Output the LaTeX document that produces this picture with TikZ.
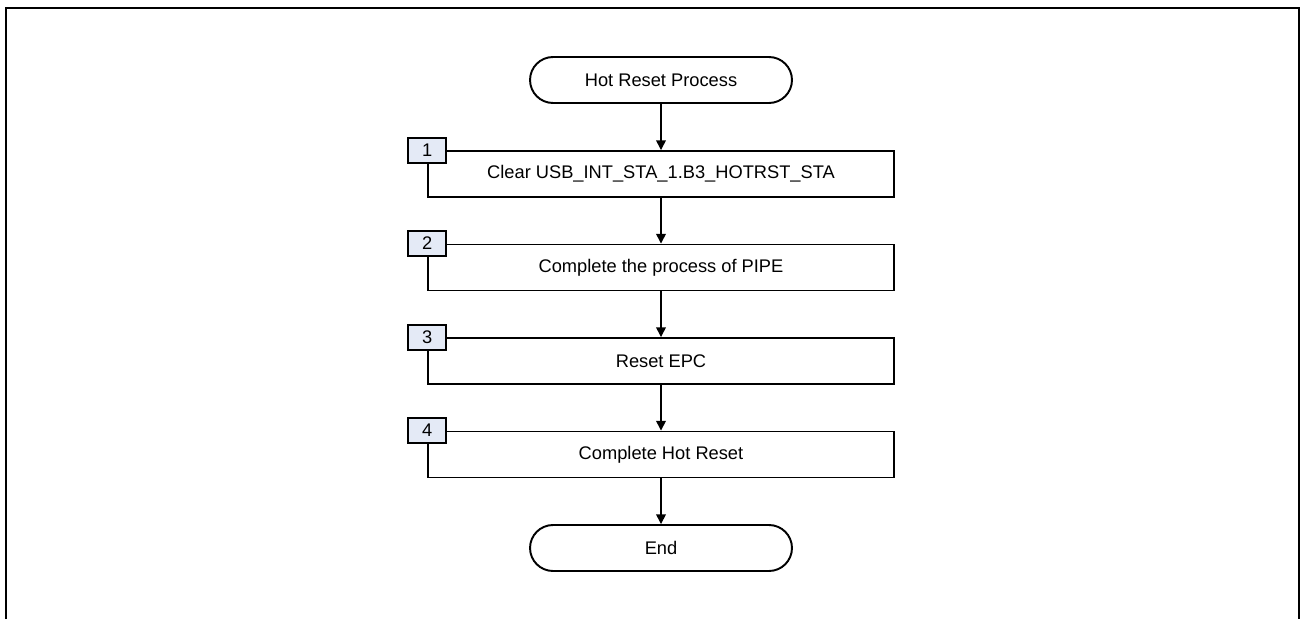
\documentclass[tikz,border=0pt]{standalone}
\usepackage{fontspec}
\setmainfont{Liberation Sans}
\usepackage{xcolor}
\usepackage{tikz}
\usetikzlibrary{arrows.meta}
\definecolor{tagblue}{RGB}{228,234,246}

\begin{document}
\begin{tikzpicture}[x=0.02cm, y=-0.02cm, >={Triangle[length=5.5pt, width=5.5pt]},
    every node/.style={font=\fontsize{10.4}{12}\selectfont},
    term/.style={draw, line width=1.1pt, rounded corners=0.46cm, minimum width=5.24cm, minimum height=0.92cm},
    procbox/.style={draw, line width=1.1pt, minimum width=9.32cm, minimum height=0.92cm},
    numtag/.style={draw, line width=1.1pt, fill=tagblue, minimum width=0.76cm, minimum height=0.5cm, inner sep=0pt},
    flow/.style={->, line width=0.8pt}]

\useasboundingbox (0, 0) rectangle (1301, 619);

% open frame
\draw[line width=1.5pt] (6, 619) -- (6, 8) -- (1299, 8) -- (1299, 619);

\node[term] (start) at (661, 80) {Hot Reset Process};

\node[procbox] (b1) at (661, 174) {Clear USB\_INT\_STA\_1.B3\_HOTRST\_STA};
\node[procbox] (b2) at (661, 267.5) {Complete the process of PIPE};
\node[procbox] (b3) at (661, 361) {Reset EPC};
\node[procbox] (b4) at (661, 454.5) {Complete Hot Reset};

\node[numtag] (t1) at (b1.north west) {1};
\node[numtag] (t2) at (b2.north west) {2};
\node[numtag] (t3) at (b3.north west) {3};
\node[numtag] (t4) at (b4.north west) {4};

\node[term] (end) at (661, 548) {End};

\draw[flow] (start) -- (b1);
\draw[flow] (b1) -- (b2);
\draw[flow] (b2) -- (b3);
\draw[flow] (b3) -- (b4);
\draw[flow] (b4) -- (end);

\end{tikzpicture}
\end{document}
